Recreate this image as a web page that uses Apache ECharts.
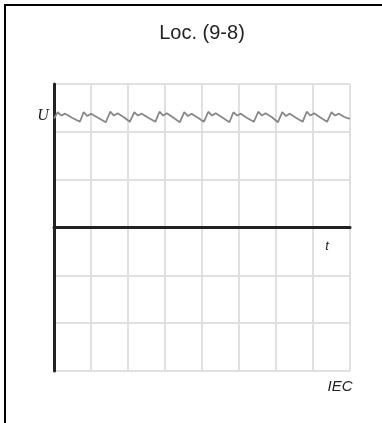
<!DOCTYPE html>
<html>
<head>
<meta charset="utf-8">
<script src="https://cdn.jsdelivr.net/npm/echarts@6/dist/echarts.min.js"></script>
<style>html,body{margin:0;padding:0;background:#fff;}#c{width:382px;height:423px;}</style>
</head>
<body>
<div id="c"></div>
<script>
var titleText = 'Loc. (9-8)';
var yLabel = 'U';
var xLabel = 't';
var sourceLabel = 'IEC';
var timeValues = [0,0.1,0.2,0.3,0.5,0.7,0.8,0.9,1.0,1.2,1.4,1.52,1.62,1.72,1.9,2.05,2.17,2.27,2.37,2.56,2.74,2.85,2.95,3.05,3.22,3.4,3.52,3.62,3.72,3.9,4.05,4.17,4.27,4.37,4.55,4.74,4.85,4.95,5.05,5.22,5.4,5.52,5.62,5.72,5.9,6.05,6.17,6.27,6.37,6.55,6.72,6.83,6.93,7.03,7.2,7.38,7.5,7.6,7.7,7.85,8.0];
var voltageValues = [2.28,2.41,2.34,2.38,2.29,2.21,2.41,2.33,2.38,2.29,2.2,2.42,2.34,2.39,2.3,2.21,2.41,2.34,2.38,2.29,2.21,2.42,2.34,2.39,2.3,2.2,2.41,2.33,2.38,2.29,2.21,2.42,2.34,2.39,2.3,2.2,2.41,2.34,2.38,2.29,2.21,2.42,2.34,2.39,2.3,2.2,2.41,2.33,2.38,2.29,2.21,2.42,2.34,2.39,2.3,2.21,2.41,2.34,2.38,2.31,2.27];

var data = timeValues.map(function(t, i){ return [t, voltageValues[i]]; });
var chart = echarts.init(document.getElementById('c'), null, {renderer:'canvas'});
chart.setOption({
  animation: false,
  backgroundColor: '#fff',
  grid: {left: 54, right: 32, top: 84, bottom: 52},
  xAxis: {type: 'value', min: 0, max: 8, interval: 1,
    axisLine: {show: true, onZero: true, lineStyle: {color: '#222', width: 3}},
    axisTick: {show: false}, axisLabel: {show: false},
    splitLine: {show: true, lineStyle: {color: '#e0e0e0', width: 2}}},
  yAxis: {type: 'value', min: -3, max: 3, interval: 1,
    axisLine: {show: true, lineStyle: {color: '#222', width: 3}},
    axisTick: {show: false}, axisLabel: {show: false},
    splitLine: {show: true, lineStyle: {color: '#e0e0e0', width: 2}}},
  series: [{type: 'line', data: data, showSymbol: false, smooth: false,
    lineStyle: {color: '#888888', width: 1.8}, z: 5}],
  graphic: [
    {type: 'rect', shape: {x: 5, y: 5, width: 400, height: 440}, style: {fill: 'none', stroke: '#000', lineWidth: 2}, silent: true},
    {type: 'text', x: 202, y: 33, style: {text: titleText, fontFamily: 'Liberation Sans, Arial, sans-serif', fontSize: 20, fill: '#222', align: 'center', verticalAlign: 'middle'}},
    {type: 'text', x: 43, y: 116, style: {text: yLabel, fontFamily: 'Liberation Serif, Times New Roman, serif', fontStyle: 'italic', fontSize: 16, fill: '#222', align: 'center', verticalAlign: 'middle'}},
    {type: 'text', x: 327, y: 246, style: {text: xLabel, fontFamily: 'Liberation Sans, Arial, sans-serif', fontStyle: 'italic', fontSize: 13, fill: '#222', align: 'center', verticalAlign: 'middle'}},
    {type: 'text', x: 340, y: 387, style: {text: sourceLabel, fontFamily: 'Liberation Sans, Arial, sans-serif', fontStyle: 'italic', fontSize: 15, fill: '#222', align: 'center', verticalAlign: 'middle'}}
  ]
});
</script>
</body>
</html>
